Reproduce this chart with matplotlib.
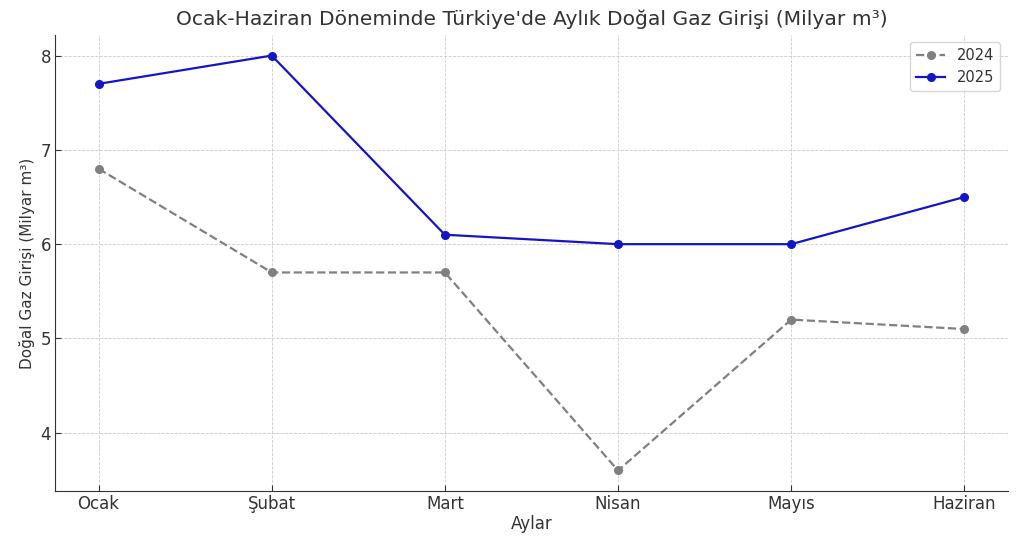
import matplotlib.pyplot as plt

aylar = ['Ocak', 'Şubat', 'Mart', 'Nisan', 'Mayıs', 'Haziran']
gaz_2024 = [6.8, 5.7, 5.7, 3.6, 5.2, 5.1]
gaz_2025 = [7.7, 8.0, 6.1, 6.0, 6.0, 6.5]

plt.rcParams['font.family'] = 'DejaVu Sans'
plt.rcParams['text.color'] = '#333333'
plt.rcParams['axes.labelcolor'] = '#333333'
plt.rcParams['xtick.color'] = '#333333'
plt.rcParams['ytick.color'] = '#333333'

fig, ax = plt.subplots(figsize=(10.24, 5.44), dpi=100)
fig.subplots_adjust(left=0.054, right=0.984, top=0.936, bottom=0.097)

ax.plot(aylar, gaz_2024, marker='o', linestyle='--', color='gray', label='2024',
        linewidth=1.6, markersize=5.5)
ax.plot(aylar, gaz_2025, marker='o', linestyle='-', color='#1515c8', label='2025',
        linewidth=1.6, markersize=5.5)

ax.set_title("Ocak-Haziran Döneminde Türkiye'de Aylık Doğal Gaz Girişi (Milyar m³)",
             fontsize=14.6, pad=7)
ax.set_xlabel('Aylar', fontsize=12, labelpad=1)
ax.set_ylabel('Doğal Gaz Girişi (Milyar m³)', fontsize=11)
ax.set_yticks([4, 5, 6, 7, 8])
ax.tick_params(direction='in', labelsize=12, length=4, pad=3)
ax.grid(True, linestyle='--', linewidth=0.6, color='#cccccc')
ax.spines['top'].set_visible(False)
ax.spines['right'].set_visible(False)
ax.spines['left'].set_color('#333333')
ax.spines['bottom'].set_color('#333333')
ax.legend(loc='upper right', fontsize=10.5)

plt.savefig('out.png', dpi=100)
